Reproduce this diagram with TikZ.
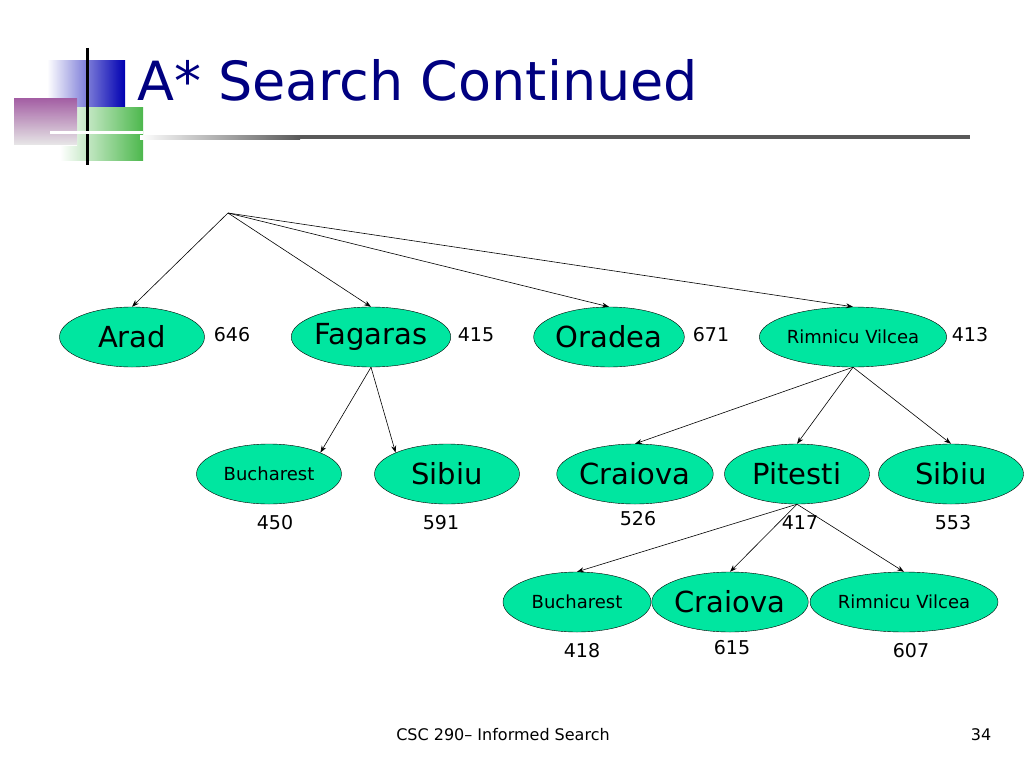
\documentclass[tikz,border=0pt]{standalone}
\usepackage{fontspec}
\setmainfont{DejaVu Sans}
\usetikzlibrary{shapes.geometric,arrows.meta}
\definecolor{mint}{RGB}{0,230,160}
\definecolor{ttl}{RGB}{0,0,128}
\tikzset{
 city/.style={ellipse,draw=black,fill=mint,inner sep=0pt,minimum height=60pt,minimum width=145pt,font=\fontsize{29}{30}\selectfont},
 cityS/.style={city,font=\fontsize{18}{20}\selectfont},
 num/.style={font=\fontsize{19}{20}\selectfont},
 arr/.style={-{Stealth[length=7pt,width=5pt]},black,line width=0.6pt}
}
\begin{document}
\begin{tikzpicture}[x=1pt,y=-1pt]
\useasboundingbox (0,0) rectangle (1024,768);
% logo
\fill[left color=white,right color=green!60!black!70] (60,107) rectangle (143,160);
\fill[left color=white,right color=blue!70!black] (47,60) rectangle (125,106);
\fill[top color=violet!60,bottom color=white,opacity=0.9] (14,98) rectangle (77,145);
\draw[black,line width=3pt] (87,48) -- (87,165);
\draw[white,line width=3pt] (50,132) -- (143,132);
\node[anchor=base west,text=ttl,font=\fontsize{54}{56}\selectfont,inner sep=0] (title) at (137,100) {A* Search Continued};
\shade[left color=white,right color=gray!70!black] (140,135) rectangle (300,139);
\fill[gray!70!black] (300,135) rectangle (970,139);
% nodes
\coordinate (root) at (228,213);
\node[city] (arad) at (132,337) {Arad};
\node[city] (fag) at (371,337) {Fagaras};
\node[city] (ora) at (609,337) {Oradea};
\node[cityS,minimum width=185pt] (rv) at (853,337) {Rimnicu Vilcea};
\node[cityS] (buc1) at (269,474) {Bucharest};
\node[city] (sib1) at (447,474) {Sibiu};
\node[city] (cra1) at (635,474) {Craiova};
\node[city] (pit) at (797,474) {Pitesti};
\node[city] (sib2) at (951,474) {Sibiu};
\node[cityS,minimum width=148pt] (buc2) at (577,602) {Bucharest};
\node[city] (cra2) at (730,602) {Craiova};
\node[cityS,minimum width=188pt] (rv2) at (904,602) {Rimnicu Vilcea};
% edges
\draw[arr] (root) -- (arad.north);
\draw[arr] (root) -- (fag.north);
\draw[arr] (root) -- (ora.north);
\draw[arr] (root) -- (rv.north);
\draw[arr] (fag.south) -- (buc1.north east);
\draw[arr] (fag.south) -- (sib1.north west);
\draw[arr] (rv.south) -- (cra1.north);
\draw[arr] (rv.south) -- (pit.north);
\draw[arr] (rv.south) -- (sib2.north);
\draw[arr] (pit.south) -- (buc2.north);
\draw[arr] (pit.south) -- (cra2.north);
\draw[arr] (pit.south) -- (rv2.north);
% numbers
\node[num] (n1) at (232,335) {646};
\node[num] (n2) at (476,335) {415};
\node[num] (n3) at (711,335) {671};
\node[num] (n4) at (970,335) {413};
\node[num] (n5) at (275,523) {450};
\node[num] (n6) at (441,523) {591};
\node[num] (n7) at (638,519) {526};
\node[num] (n8) at (800,523) {417};
\node[num] (n9) at (953,523) {553};
\node[num] (n10) at (582,651) {418};
\node[num] (n11) at (732,648) {615};
\node[num] (n12) at (911,651) {607};
% footer
\node[font=\fontsize{16}{18}\selectfont] (foot) at (503,735) {CSC 290– Informed Search};
\node[font=\fontsize{16}{18}\selectfont] (pg) at (981,735) {34};
\end{tikzpicture}
\end{document}
